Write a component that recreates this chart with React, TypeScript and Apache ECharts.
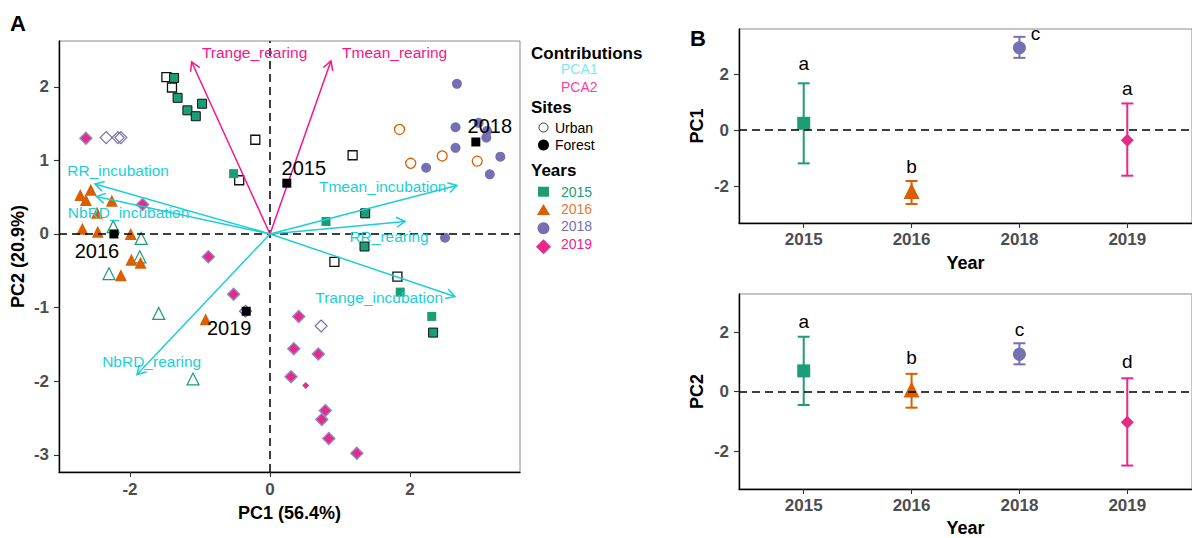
import React, { useEffect, useRef } from "react";
import * as echarts from "echarts";

const FONT = "'Liberation Sans', Arial, Helvetica, sans-serif";

// ---------- shared ----------
const yearLabels = ["2015", "2016", "2018", "2019"];
const yearColors = ["#1b9e77", "#d95f02", "#7570b3", "#e7298a"];
const yearTextColors = ["#1b9e77", "#e07b39", "#7570b3", "#e7298a"];
const CYAN = "#1ccfd6";
const PINK = "#f7158b";

// ---------- Panel A : PCA individuals ----------
const squares2015Edged = [
  [-1.37, 2.12], [-1.32, 1.85], [-1.18, 1.68], [-1.06, 1.6], [-0.97, 1.77],
  [1.36, 0.28], [1.35, -0.17], [2.33, -1.34],
];
const squares2015Plain = [
  [-0.52, 0.82], [0.8, 0.17], [1.86, -0.79], [2.31, -1.12],
];
const squaresHollow = [
  [-1.48, 2.13], [-1.4, 1.99], [-0.21, 1.28], [-0.44, 0.73], [1.18, 1.07],
  [0.92, -0.38], [1.82, -0.58],
];
const triangles2016 = [
  [-2.71, 0.53], [-2.56, 0.6], [-2.63, 0.46], [-2.26, 0.45], [-2.47, 0.29],
  [-2.68, 0.07], [-2.46, 0.03], [-1.99, 0.0], [-1.98, -0.35], [-1.85, -0.39],
  [-2.13, -0.56], [-0.92, -1.16],
];
const trianglesHollow = [
  [-2.24, 0.1], [-1.84, -0.06], [-1.86, -0.31], [-2.3, -0.54], [-1.59, -1.08],
  [-1.1, -1.97],
];
const circles2018 = [
  [2.67, 2.04], [2.65, 1.45], [2.65, 1.17], [2.23, 0.9], [2.98, 1.51],
  [3.1, 1.4], [3.09, 1.31], [3.29, 1.05], [3.14, 0.81], [2.5, -0.05],
];
const circlesHollow = [
  [1.85, 1.42], [2.01, 0.96], [2.46, 1.06], [2.96, 0.99],
];
const diamonds2019 = [
  [-2.63, 1.3], [-1.82, 0.4], [-0.88, -0.31], [-0.52, -0.82], [0.41, -1.12],
  [0.34, -1.56], [0.69, -1.63], [0.3, -1.94], [0.79, -2.4], [0.74, -2.52],
  [0.84, -2.78], [1.24, -2.98],
];
const diamondsHollow = [
  [-2.34, 1.31], [-2.17, 1.31], [-2.13, 1.31], [0.73, -1.25], [-0.35, -1.05],
];
const diamondsSmall = [[0.51, -2.06]];

const centroidYears = ["2015", "2016", "2018", "2019"];
const centroidX = [0.24, -2.23, 2.94, -0.34];
const centroidY = [0.69, 0.0, 1.25, -1.05];

// ---------- Panel A : variables ----------
const varNames = [
  "Trange_rearing", "Tmean_rearing", "RR_incubation", "NbRD_incubation",
  "Tmean_incubation", "RR_rearing", "Trange_incubation", "NbRD_rearing",
];
const varContribution = [2, 2, 1, 1, 1, 1, 1, 1];
const varTipX = [-1.12, 0.87, -2.5, -2.48, 2.67, 1.93, 2.64, -1.9];
const varTipY = [2.34, 2.35, 0.68, 0.51, 0.66, 0.17, -0.85, -1.91];
const varLabelX = [-0.22, 1.78, -2.17, -2.02, 1.61, 1.7, 1.56, -1.69];
const varLabelY = [2.47, 2.47, 0.86, 0.29, 0.65, -0.04, -0.86, -1.73];

const pcaXTicks = [-2, 0, 2];
const pcaYTicks = [-3, -2, -1, 0, 1, 2];

// ---------- Panel B ----------
const yearPos = [1, 2, 3, 4];
const pc1Mean = [0.24, -2.18, 2.94, -0.36];
const pc1Low = [-1.19, -2.64, 2.58, -1.63];
const pc1High = [1.67, -1.82, 3.33, 0.95];
const pc1Letters = ["a", "b", "c", "a"];
const pc1LetterX = [1, 2, 3.15, 4];
const pc1LetterY = [2.38, -1.29, 3.45, 1.49];

const pc2Mean = [0.7, 0.07, 1.26, -1.03];
const pc2Low = [-0.45, -0.54, 0.92, -2.49];
const pc2High = [1.85, 0.6, 1.63, 0.45];
const pc2Letters = ["a", "b", "c", "d"];
const pc2LetterX = [1, 2, 3, 4];
const pc2LetterY = [2.36, 1.16, 2.08, 1.01];

const pcBTicks = [-2, 0, 2];

// ---------- option building ----------
const tickLabelStyle = { fontFamily: FONT, fontWeight: "bold", fontSize: 17, color: "#4d4d4d" };
const nameStyle = { fontFamily: FONT, fontWeight: "bold", fontSize: 18, color: "#000" };

function valueAxis(gridIndex: number, min: number, max: number, ticks: number[], name: string,
  nameGap: number, margin: number, formatter?: any) {
  return {
    type: "value",
    gridIndex,
    min,
    max,
    name,
    nameLocation: "middle",
    nameGap,
    nameTextStyle: nameStyle,
    axisLine: { show: true, onZero: false, lineStyle: { color: "#000", width: 1.4 } },
    axisTick: { show: true, customValues: ticks, length: 5, lineStyle: { color: "#333", width: 1.1 } },
    axisLabel: { show: true, customValues: ticks, margin, formatter, ...tickLabelStyle },
    splitLine: { show: false },
  };
}

const dashed = { color: "#000", type: [8, 5], width: 1.5 };

function sc(data: number[][], symbol: string, size: number, itemStyle: any, z = 3) {
  return {
    type: "scatter", xAxisIndex: 0, yAxisIndex: 0, data, symbol, symbolSize: size,
    itemStyle: { opacity: 1, ...itemStyle }, z, silent: true,
  };
}

function buildPanelB(idx: number, mean: number[], low: number[], high: number[],
  letters: string[], lx: number[], ly: number[]) {
  const symbols = ["rect", "triangle", "circle", "diamond"];
  const sizes = [13, 16, 13, 13];
  return [
    {
      type: "scatter", xAxisIndex: idx, yAxisIndex: idx, data: [[0.5, 0]], symbolSize: 0,
      itemStyle: { opacity: 0 }, silent: true, z: 1,
      markLine: {
        silent: true, symbol: ["none", "none"], label: { show: false },
        lineStyle: dashed, data: [{ yAxis: 0 }],
      },
    },
    {
      type: "custom", xAxisIndex: idx, yAxisIndex: idx, z: 2, silent: true,
      data: yearPos.map((x, i) => [x, low[i], high[i], i]),
      renderItem: (_p: any, api: any) => {
        const x = api.value(0);
        const top = api.coord([x, api.value(2)]);
        const bot = api.coord([x, api.value(1)]);
        const c = yearColors[api.value(3)];
        const w = 6;
        const st = { stroke: c, lineWidth: 2 };
        return {
          type: "group",
          children: [
            { type: "line", shape: { x1: top[0], y1: top[1], x2: bot[0], y2: bot[1] }, style: st },
            { type: "line", shape: { x1: top[0] - w, y1: top[1], x2: top[0] + w, y2: top[1] }, style: st },
            { type: "line", shape: { x1: bot[0] - w, y1: bot[1], x2: bot[0] + w, y2: bot[1] }, style: st },
          ],
        };
      },
    },
    {
      type: "scatter", xAxisIndex: idx, yAxisIndex: idx, z: 3, silent: true,
      data: yearPos.map((x, i) => ({
        value: [x, mean[i]], symbol: symbols[i], symbolSize: sizes[i],
        itemStyle: { color: yearColors[i], opacity: 1 },
      })),
    },
    {
      type: "custom", xAxisIndex: idx, yAxisIndex: idx, z: 4, silent: true, clip: false,
      data: lx.map((x, i) => [x, ly[i], i]),
      renderItem: (_p: any, api: any) => {
        const p = api.coord([api.value(0), api.value(1)]);
        return {
          type: "text", x: p[0], y: p[1],
          style: {
            text: letters[api.value(2)], fill: "#000", fontSize: 19, fontFamily: FONT,
            align: "center", verticalAlign: "middle", textAlign: "center", textVerticalAlign: "middle",
          },
        };
      },
    },
  ];
}

function buildOption() {
  const centroidOffsets = [[17, -15], [-17, 17], [14, -16], [-17, 17]];
  const legendText = (text: string, x: number, y: number, size: number, fill: string, bold = false) => ({
    type: "text", x, y, silent: true,
    style: {
      text, fill, fontSize: size, fontFamily: FONT, fontWeight: bold ? "bold" : "normal",
      align: "left", verticalAlign: "middle", textAlign: "left", textVerticalAlign: "middle",
    },
  });

  return {
    animation: false,
    backgroundColor: "#fff",
    grid: [
      { left: 59, top: 41, width: 461, height: 431, show: true, borderColor: "#8a8a8a", borderWidth: 1, backgroundColor: "#fff" },
      { left: 739, top: 29, width: 462, height: 194, show: true, borderColor: "#8a8a8a", borderWidth: 1, backgroundColor: "#fff" },
      { left: 739, top: 294, width: 462, height: 195, show: true, borderColor: "#8a8a8a", borderWidth: 1, backgroundColor: "#fff" },
    ],
    xAxis: [
      valueAxis(0, -3.014, 3.571, pcaXTicks, "PC1 (56.4%)", 32, 9),
      valueAxis(1, 0.4, 4.6, yearPos, "Year", 31, 8, (v: number) => yearLabels[Math.round(v) - 1]),
      valueAxis(2, 0.4, 4.6, yearPos, "Year", 30, 8, (v: number) => yearLabels[Math.round(v) - 1]),
    ],
    yAxis: [
      valueAxis(0, -3.234, 2.622, pcaYTicks, "PC2 (20.9%)", 32, 10),
      valueAxis(1, -3.32, 3.61, pcBTicks, "PC1", 33, 10),
      valueAxis(2, -3.28, 3.29, pcBTicks, "PC2", 33, 10),
    ],
    graphic: [
      legendText("A", 10, 23, 22, "#000", true),
      legendText("B", 690, 38, 22, "#000", true),
      legendText("Contributions", 531, 53, 17, "#000", true),
      legendText("PCA1", 561, 69, 14, "#80e8f2"),
      legendText("PCA2", 561, 87, 14, "#ff3fa0"),
      legendText("Sites", 531, 107, 17, "#000", true),
      { type: "circle", silent: true, shape: { cx: 543.5, cy: 127.5, r: 4.5 }, style: { fill: "#fff", stroke: "#333", lineWidth: 1 } },
      legendText("Urban", 555, 128, 14, "#000"),
      { type: "circle", silent: true, shape: { cx: 543.5, cy: 145, r: 5.5 }, style: { fill: "#000" } },
      legendText("Forest", 555, 145, 14, "#000"),
      legendText("Years", 531, 170, 17, "#000", true),
      { type: "rect", silent: true, shape: { x: 538, y: 186.7, width: 11, height: 10 }, style: { fill: yearColors[0] } },
      { type: "polygon", silent: true, shape: { points: [[543.5, 204], [550, 215], [537, 215]] }, style: { fill: yearColors[1] } },
      { type: "circle", silent: true, shape: { cx: 543.5, cy: 228.3, r: 6 }, style: { fill: yearColors[2] } },
      { type: "polygon", silent: true, shape: { points: [[543.5, 239.2], [551, 246.7], [543.5, 254.2], [536, 246.7]] }, style: { fill: yearColors[3] } },
      legendText(yearLabels[0], 561, 191.7, 14, yearTextColors[0]),
      legendText(yearLabels[1], 561, 209, 14, yearTextColors[1]),
      legendText(yearLabels[2], 561, 226.3, 14, yearTextColors[2]),
      legendText(yearLabels[3], 561, 243.5, 14, yearTextColors[3]),
    ],
    series: [
      {
        type: "scatter", xAxisIndex: 0, yAxisIndex: 0, data: [[-5, -5]], symbolSize: 0,
        itemStyle: { opacity: 0 }, silent: true, z: 1,
        markLine: {
          silent: true, symbol: ["none", "none"], label: { show: false },
          lineStyle: dashed, data: [{ xAxis: 0 }, { yAxis: 0 }],
        },
      },
      sc(squaresHollow, "rect", 9, { color: "#fff", borderColor: "#111", borderWidth: 1.3 }),
      sc(squares2015Plain, "rect", 9, { color: yearColors[0] }),
      sc(squares2015Edged, "rect", 9, { color: yearColors[0], borderColor: "#111", borderWidth: 1 }),
      sc(trianglesHollow, "triangle", 12, { color: "rgba(255,255,255,0)", borderColor: yearColors[0], borderWidth: 1.2 }),
      sc(triangles2016, "triangle", 12, { color: yearColors[1] }),
      sc(circlesHollow, "circle", 10, { color: "rgba(255,255,255,0)", borderColor: yearColors[1], borderWidth: 1.3 }),
      sc(circles2018, "circle", 10, { color: yearColors[2] }),
      sc(diamondsHollow, "diamond", 12, { color: "rgba(255,255,255,0)", borderColor: yearColors[2], borderWidth: 1.2 }),
      sc(diamonds2019, "diamond", 12, { color: yearColors[3], borderColor: "#8f8ac4", borderWidth: 1.4 }),
      sc(diamondsSmall, "diamond", 7, { color: yearColors[3] }),
      {
        type: "custom", xAxisIndex: 0, yAxisIndex: 0, z: 5, silent: true,
        data: varTipX.map((x, i) => [x, varTipY[i], varContribution[i]]),
        renderItem: (_p: any, api: any) => {
          const o = api.coord([0, 0]);
          const t = api.coord([api.value(0), api.value(1)]);
          const ang = Math.atan2(t[1] - o[1], t[0] - o[0]);
          const L = 10;
          const a = Math.PI / 6;
          const p1 = [t[0] - L * Math.cos(ang - a), t[1] - L * Math.sin(ang - a)];
          const p2 = [t[0] - L * Math.cos(ang + a), t[1] - L * Math.sin(ang + a)];
          const color = api.value(2) === 1 ? CYAN : PINK;
          return {
            type: "group",
            children: [
              { type: "line", shape: { x1: o[0], y1: o[1], x2: t[0], y2: t[1] }, style: { stroke: color, lineWidth: 1.5 } },
              { type: "polyline", shape: { points: [p1, t, p2] }, style: { stroke: color, lineWidth: 1.5, fill: "none" } },
            ],
          };
        },
      },
      {
        type: "custom", xAxisIndex: 0, yAxisIndex: 0, z: 6, silent: true,
        data: varLabelX.map((x, i) => [x, varLabelY[i], i]),
        renderItem: (_p: any, api: any) => {
          const i = api.value(2);
          const p = api.coord([api.value(0), api.value(1)]);
          return {
            type: "text", x: p[0], y: p[1],
            style: {
              text: varNames[i], fill: varContribution[i] === 1 ? CYAN : PINK, fontSize: 15.5,
              fontFamily: FONT, align: "center", verticalAlign: "middle",
              textAlign: "center", textVerticalAlign: "middle",
            },
          };
        },
      },
      {
        type: "scatter", xAxisIndex: 0, yAxisIndex: 0, z: 7, silent: true, symbol: "rect", symbolSize: 9,
        itemStyle: { color: "#000", opacity: 1 },
        data: centroidX.map((x, i) => ({
          value: [x, centroidY[i]],
          label: {
            show: true, position: "inside", formatter: centroidYears[i], offset: centroidOffsets[i],
            fontSize: 20, fontFamily: FONT, color: "#000", opacity: 1,
          },
        })),
      },
      ...buildPanelB(1, pc1Mean, pc1Low, pc1High, pc1Letters, pc1LetterX, pc1LetterY),
      ...buildPanelB(2, pc2Mean, pc2Low, pc2High, pc2Letters, pc2LetterX, pc2LetterY),
    ],
  };
}

export default function App() {
  const ref = useRef<HTMLDivElement>(null);
  useEffect(() => {
    document.body.style.margin = "0";
    if (!ref.current) return;
    const chart = echarts.init(ref.current, undefined, { renderer: "svg" });
    chart.setOption(buildOption() as any);
    return () => chart.dispose();
  }, []);
  return <div ref={ref} style={{ width: 1192, height: 538, background: "#fff" }} />;
}
